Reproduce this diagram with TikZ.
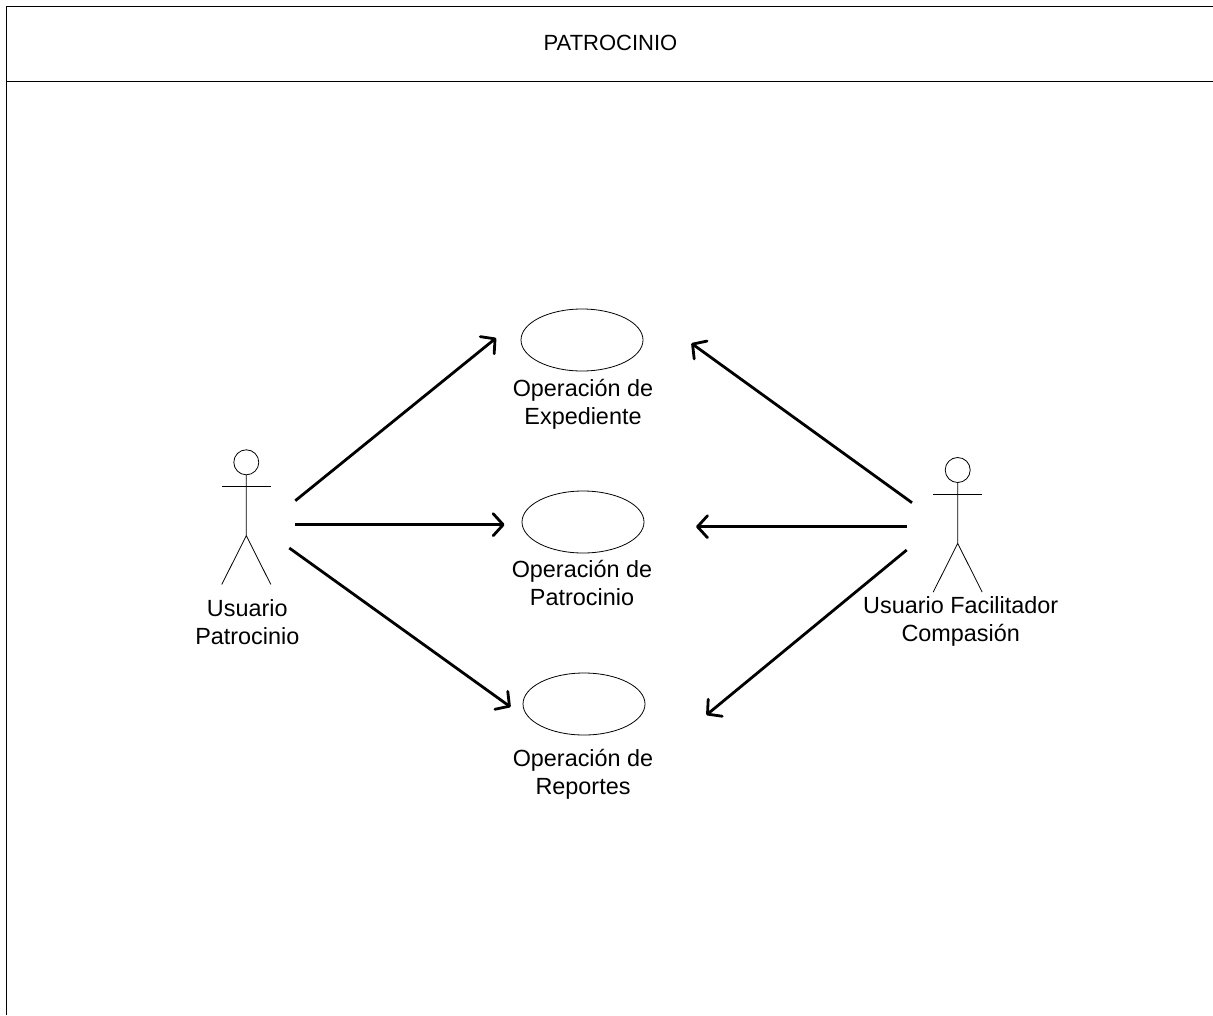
\documentclass[tikz,border=0pt]{standalone}
\usepackage{fontspec}
\setmainfont{Liberation Sans}
\usetikzlibrary{positioning,shapes.geometric,arrows.meta}
\tikzset{
    usecase/.style={draw, ellipse, inner sep=0pt, minimum width=122pt, minimum height=62pt, line width=.8pt},
    head/.style={draw, circle, inner sep=0pt, minimum size=25pt, line width=.8pt},
    rotulo/.style={align=center, inner sep=0pt, font=\fontsize{23.4}{28}\selectfont},
    assoc/.style={-{Straight Barb[length=10pt,width=22pt,round]}, line width=2.8pt},
}
\begin{document}
\begin{tikzpicture}[x=1pt, y=-1pt]
        \useasboundingbox (0,0) rectangle (1213,1015);
        \draw[line width=1pt] (6,1015) -- (6,6) -- (1213,6);
        \draw[line width=1pt] (6,81.5) -- (1213,81.5);
        \node[inner sep=0pt, font=\fontsize{22}{26}\selectfont] (titulo) at (610.5,43) {PATROCINIO};
        \foreach \n/\x/\y/\d/\s/\l in {expediente/582/340/8/1/Expediente,patrocinio/583/522/7/-1/Patrocinio,reportes/584/704/14/-1/Reportes} {
            \node[usecase] (\n) at (\x,\y) {};
            \node[rotulo, below=\d pt of \n, xshift=\s pt] (\n-label) {Operación de\\\l};
        }
        \foreach \n/\x/\y in {usuario/246.3/462.3,facilitador/957.7/470} {
            \node[head] (\n) at (\x,\y) {};
            \draw[line width=.8pt] (\n.south) -- ++(0,60.5) -- +(-24.5,48.7) +(0,0) -- +(24.5,48.7);
            \draw[line width=.8pt] ([shift={(-24.5,24.4)}]\n.center) -- +(49,0);
        }
        \node[rotulo, below=137pt of usuario.center, xshift=1pt] (usuario-label) {Usuario\\Patrocinio};
        \node[rotulo, below=126pt of facilitador.center, xshift=3pt] (facilitador-label) {Usuario Facilitador\\Compasión};
        \draw[assoc] ([shift={(49,38.4)}]usuario.center) -- ([shift={(-24.5,-2)}]expediente.west);
        \draw[assoc] ([shift={(49,62.4)}]usuario.center) -- ([shift={(-17,2.7)}]patrocinio.west);
        \draw[assoc] ([shift={(43,85.7)}]usuario.center) -- ([shift={(-12,3)}]reportes.west);
        \draw[assoc] ([shift={(-45.7,32.7)}]facilitador.center) -- ([shift={(48,3.3)}]expediente.east);
        \draw[assoc] ([shift={(-51,56.7)}]facilitador.center) -- ([shift={(51.7,4.7)}]patrocinio.east);
        \draw[assoc] ([shift={(-51,80)}]facilitador.center) -- ([shift={(61,11)}]reportes.east);
\end{tikzpicture}
\end{document}
